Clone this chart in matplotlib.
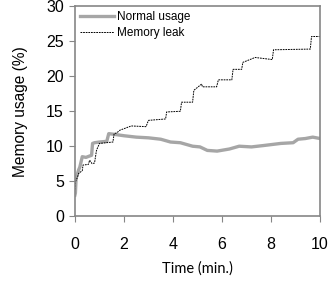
import matplotlib.pyplot as plt

plt.rcParams['font.family'] = ['Liberation Sans', 'DejaVu Sans']

# Normal usage (grey thick line)
t_normal = [0, 0.02, 0.05, 0.1, 0.15, 0.2, 0.3, 0.45, 0.6, 0.68, 0.72, 0.8, 1.0, 1.3, 1.38,
            1.6, 2.0, 2.5, 3.0, 3.5, 3.9, 4.3, 4.8, 5.1, 5.4, 5.8, 6.3, 6.7, 7.2, 7.7, 8.4,
            8.9, 9.1, 9.4, 9.7, 10.0]
v_normal = [3.0, 3.3, 5.5, 6.0, 6.6, 7.0, 8.5, 8.4, 8.6, 8.7, 10.4, 10.5, 10.6, 10.7, 11.8,
            11.7, 11.5, 11.3, 11.2, 11.0, 10.6, 10.5, 10.0, 9.9, 9.4, 9.3, 9.6, 10.0, 9.9, 10.1, 10.4,
            10.5, 11.0, 11.1, 11.3, 11.1]

# Memory leak (dashed black line)
t_leak = [0, 0.03, 0.1, 0.15, 0.3, 0.33, 0.55, 0.6, 0.7, 0.8, 0.88, 1.0, 1.55, 1.6, 1.7,
          1.84, 2.3, 2.9, 3.0, 3.7, 3.74, 4.3, 4.35, 4.8, 4.85, 5.17, 5.2, 5.78, 5.85, 6.4,
          6.45, 6.8, 6.85, 7.35, 8.05, 8.1, 9.6, 9.65, 10.0]
v_leak = [3.8, 5.0, 5.5, 6.1, 6.5, 7.3, 7.4, 8.0, 7.5, 7.6, 9.4, 10.4, 10.6, 11.8, 11.9,
          12.3, 12.9, 12.8, 13.7, 13.9, 14.9, 15.0, 16.3, 16.3, 18.0, 18.9, 18.5, 18.5, 19.5, 19.5,
          21.0, 21.0, 22.0, 22.7, 22.4, 23.8, 23.9, 25.7, 25.7]

fig = plt.figure(figsize=(3.3, 2.81), dpi=100)
ax = fig.add_axes([0.227, 0.231, 0.743, 0.746])

ax.plot(t_normal, v_normal, color='#a6a6a6', lw=2.4, label='Normal usage')
ax.plot(t_leak, v_leak, color='black', lw=0.7, ls=(0, (1.8, 0.9)), label='Memory leak')

ax.set_xlim(0, 10)
ax.set_ylim(0, 30)
ax.set_xticks([0, 2, 4, 6, 8, 10])
ax.set_yticks([0, 5, 10, 15, 20, 25, 30])
for s in ax.spines.values():
    s.set_color('#868686')
    s.set_linewidth(1.2)
ax.tick_params(direction='out', length=4, color='#868686', labelsize=11.5)
ax.tick_params(axis='x', pad=11)
ax.tick_params(axis='y', pad=4)

ax.set_xlabel('Time (min.)', fontsize=10.5, family=['Lato', 'DejaVu Sans'], labelpad=7)
ax.set_ylabel('Memory usage (%)', fontsize=11.2, labelpad=13)

ax.legend(loc='upper left', frameon=False, fontsize=8.5, handlelength=2.9,
          handletextpad=0.3, labelspacing=0.3, borderaxespad=0.2, borderpad=0.2)

fig.savefig('out.png', dpi=100)
